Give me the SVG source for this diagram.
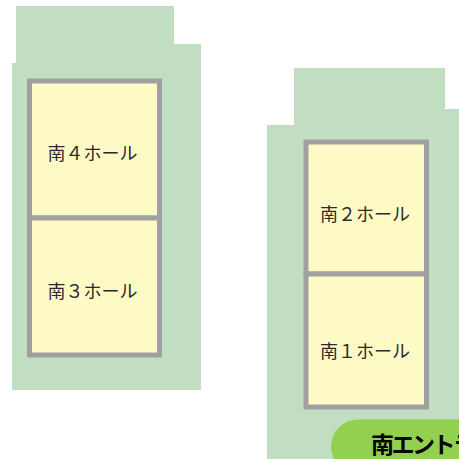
<svg xmlns="http://www.w3.org/2000/svg" width="459" height="459" viewBox="0 0 459 459">
<style>
.site{fill:#c1dec3}
.hall{fill:#fefac6;stroke:#a0a0a0;stroke-width:5}
.lbl{font-family:"Noto Sans CJK JP","Noto Sans",sans-serif;font-size:18px;fill:#2a2a28;text-anchor:middle}
.ent{font-family:"Noto Sans CJK JP","Noto Sans",sans-serif;font-size:23px;letter-spacing:-2.500px;font-weight:700;fill:#000}
</style>
<rect width="459" height="459" fill="#fff"/>
<path id="site-left" class="site" d="M16 6H174V44H201V390H12V63H16Z"/>
<path id="site-right" class="site" d="M294 68H445V109H459V459H267V125H294Z"/>
<g id="hall-s4"><rect class="hall" x="29.5" y="81" width="130" height="137"/><text class="lbl" x="92.500" y="159.500">南４ホール</text></g>
<g id="hall-s3"><rect class="hall" x="29.5" y="218" width="130" height="137"/><text class="lbl" x="92.500" y="297.500">南３ホール</text></g>
<g id="hall-s2"><rect class="hall" x="306" y="142" width="120.500" height="132"/><text class="lbl" x="365" y="220.500">南２ホール</text></g>
<g id="hall-s1"><rect class="hall" x="306" y="274" width="120.500" height="133"/><text class="lbl" x="365" y="357.500">南１ホール</text></g>
<g id="entrance"><rect x="331" y="419.500" width="200" height="54" rx="27" fill="#92d050"/><text class="ent" x="371" y="453">南エントランス</text></g>
</svg>
